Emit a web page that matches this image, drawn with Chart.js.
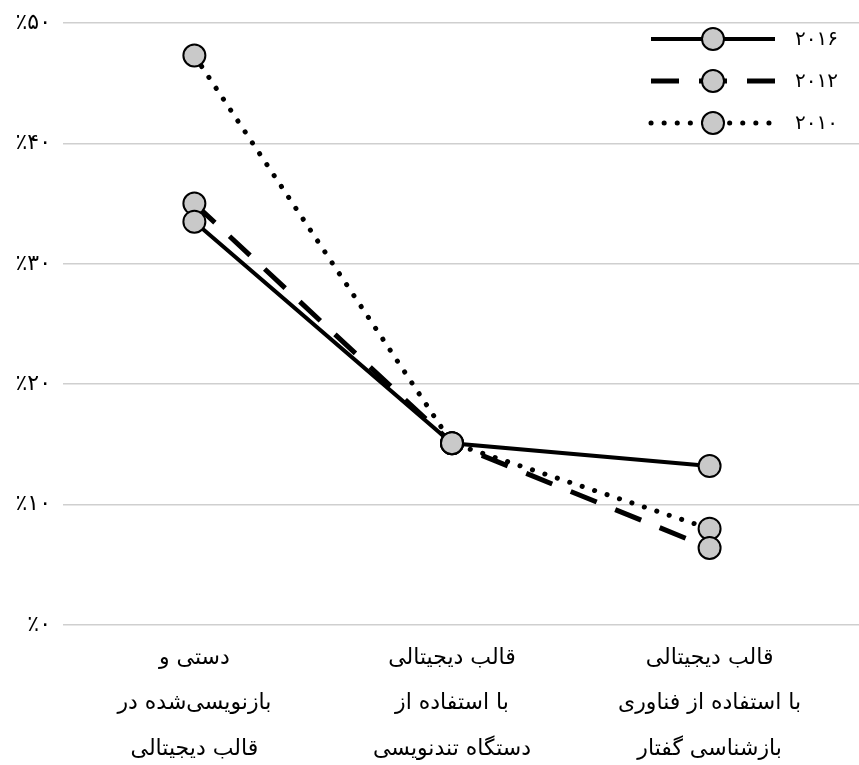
<!DOCTYPE html>
<html>
<head>
<meta charset="utf-8">
<script src="https://cdn.jsdelivr.net/npm/chart.js@4.4.0/dist/chart.umd.min.js"></script>
<style>
  html, body { margin: 0; padding: 0; background: #fff; overflow: hidden; }
  canvas { display: block; }
</style>
</head>
<body>
<canvas id="myChart" width="859" height="765"></canvas>
<script>
// categories (multi-line x labels)
const categories = [
  ['دستی و', 'بازنویسی\u200cشده در', 'قالب دیجیتالی'],
  ['قالب دیجیتالی', 'با استفاده از', 'دستگاه تندنویسی'],
  ['قالب دیجیتالی', 'با استفاده از فناوری', 'بازشناسی گفتار']
];

const seriesNames = ['۲۰۱۶', '۲۰۱۲', '۲۰۱۰'];
const values2016 = [33.5, 15.1, 13.2];
const values2012 = [35.0, 15.1, 6.4];
const values2010 = [47.3, 15.1, 8.0];

const yTickLabels = ['٪۰', '٪۱۰', '٪۲۰', '٪۳۰', '٪۴۰', '٪۵۰'];

const dashes = [[], [28, 20], [0.1, 13]];
const widths = [4, 5, 5];

function makePoints(vals) {
  return vals.map((v, i) => ({ x: i, y: v }));
}

const FONT = "'DejaVu Sans', sans-serif";

// legend drawn inside the plot, top right
const insideLegend = {
  id: 'insideLegend',
  afterDraw(chart) {
    const ctx = chart.ctx;
    const area = chart.chartArea;
    chart.data.datasets.forEach((ds, i) => {
      const y = area.top + 16 + i * 42;
      const x0 = area.right - 208;
      const x1 = area.right - 84;
      ctx.save();
      ctx.strokeStyle = '#000';
      ctx.lineWidth = ds.borderWidth;
      ctx.setLineDash(ds.borderDash);
      ctx.lineCap = ds.borderCapStyle;
      ctx.beginPath();
      ctx.moveTo(x0, y);
      ctx.lineTo(x1, y);
      ctx.stroke();
      ctx.setLineDash([]);
      ctx.beginPath();
      ctx.arc((x0 + x1) / 2, y, ds.pointRadius, 0, Math.PI * 2);
      ctx.fillStyle = ds.pointBackgroundColor;
      ctx.fill();
      ctx.lineWidth = ds.pointBorderWidth;
      ctx.stroke();
      ctx.fillStyle = '#000';
      ctx.font = '20px ' + FONT;
      ctx.textBaseline = 'middle';
      ctx.textAlign = 'left';
      ctx.fillText(ds.label, area.right - 64, y + 1);
      ctx.restore();
    });
  }
};

const allValues = [values2016, values2012, values2010];

const datasets = allValues.map((vals, i) => ({
  label: seriesNames[i],
  data: makePoints(vals),
  borderColor: '#000',
  borderWidth: widths[i],
  borderDash: dashes[i],
  borderCapStyle: i == 2 ? 'round' : 'butt',
  pointRadius: 11,
  pointHoverRadius: 11,
  pointBackgroundColor: '#c9c9c9',
  pointBorderColor: '#000',
  pointBorderWidth: 2,
  tension: 0,
  fill: false
}));

function noPadding(scale) {
  scale.paddingLeft = 0;
  scale.paddingRight = 0;
  scale.paddingTop = 0;
  scale.paddingBottom = 0;
}

new Chart('myChart', {
  type: 'line',
  data: { datasets: datasets },
  options: {
    responsive: false,
    animation: false,
    layout: { autoPadding: false, padding: { top: 23, right: 0, bottom: 0, left: 0 } },
    plugins: {
      legend: { display: false },
      tooltip: { enabled: false }
    },
    scales: {
      x: {
        type: 'linear',
        min: -0.51,
        max: 2.58,
        grid: { display: false, drawTicks: false },
        border: { display: false },
        afterBuildTicks: (scale) => {
          scale.ticks = categories.map((c, i) => ({ value: i }));
        },
        afterFit: (scale) => {
          noPadding(scale);
          scale.height = 140;
        },
        ticks: {
          autoSkip: false,
          maxRotation: 0,
          padding: 10,
          color: '#000',
          font: { family: FONT, size: 22, lineHeight: 2.08 },
          callback: (v, i) => categories[i]
        }
      },
      y: {
        min: 0,
        max: 50,
        afterFit: (scale) => {
          noPadding(scale);
          scale.width = 63;
        },
        grid: { color: '#cfcfcf', lineWidth: 1.5, drawTicks: false },
        border: { display: false },
        ticks: {
          stepSize: 10,
          padding: 12,
          color: '#000',
          font: { family: FONT, size: 22 },
          callback: (v, i) => yTickLabels[i]
        }
      }
    }
  },
  plugins: [insideLegend]
});
</script>
</body>
</html>
